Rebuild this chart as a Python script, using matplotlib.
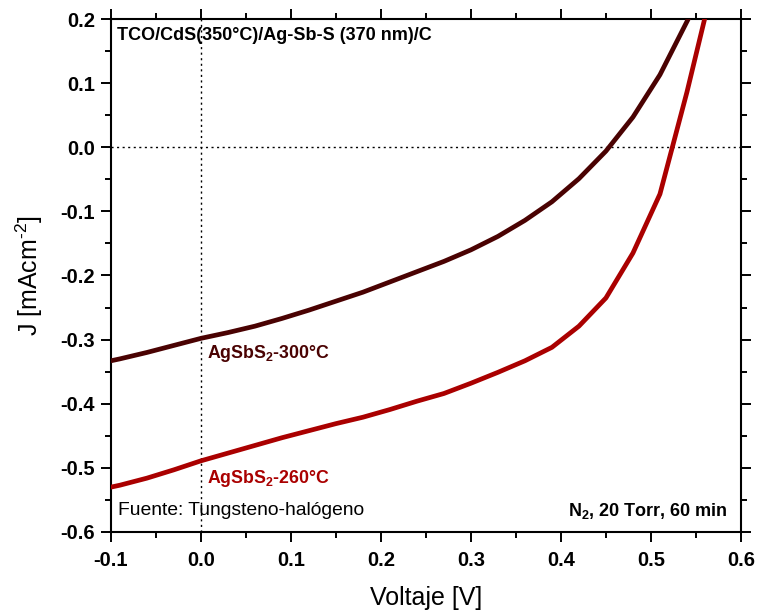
import numpy as np
import matplotlib
matplotlib.use("Agg")
import matplotlib.pyplot as plt
from matplotlib.ticker import MultipleLocator

plt.rcParams['font.family'] = ['Liberation Sans', 'DejaVu Sans']
plt.rcParams['mathtext.fontset'] = 'custom'
plt.rcParams['mathtext.rm'] = 'Liberation Sans'
plt.rcParams['mathtext.bf'] = 'Liberation Sans:bold'
plt.rcParams['mathtext.it'] = 'Liberation Sans:italic'

# curva AgSbS2-300°C
v_300 = [-0.10, -0.09, -0.06, -0.03, 0.00, 0.03, 0.06, 0.09, 0.12, 0.15, 0.18, 0.21, 0.24,
         0.27, 0.30, 0.33, 0.36, 0.39, 0.42, 0.45, 0.48, 0.51, 0.54, 0.57]
j_300 = [-0.333, -0.330, -0.320, -0.309, -0.298, -0.289, -0.279, -0.267, -0.254, -0.240,
         -0.226, -0.210, -0.194, -0.178, -0.160, -0.139, -0.114, -0.085, -0.049, -0.006,
         0.047, 0.113, 0.196, 0.280]

# curva AgSbS2-260°C
v_260 = [-0.10, -0.09, -0.06, -0.03, 0.00, 0.03, 0.06, 0.09, 0.12, 0.15, 0.18, 0.21, 0.24,
         0.27, 0.30, 0.33, 0.36, 0.39, 0.42, 0.45, 0.48, 0.51, 0.54, 0.57]
j_260 = [-0.530, -0.527, -0.516, -0.503, -0.489, -0.477, -0.465, -0.453, -0.442, -0.431,
         -0.421, -0.409, -0.396, -0.384, -0.368, -0.351, -0.333, -0.312, -0.279, -0.235,
         -0.165, -0.073, 0.086, 0.260]

xticks = [-0.1, 0.0, 0.1, 0.2, 0.3, 0.4, 0.5, 0.6]
xlabels = ['-0.1', '0.0', '0.1', '0.2', '0.3', '0.4', '0.5', '0.6']
yticks = [-0.6, -0.5, -0.4, -0.3, -0.2, -0.1, 0.0, 0.1, 0.2]
ylabels = ['-0.6', '-0.5', '-0.4', '-0.3', '-0.2', '-0.1', '0.0', '0.1', '0.2']

fig = plt.figure(figsize=(7.59, 6.11), dpi=100)
ax = fig.add_axes([0.1462, 0.1293, 0.830, 0.8396])

ax.axvline(0, color='black', ls=(0, (1.5, 2.5)), lw=1.0, zorder=1)
ax.axhline(0, color='black', ls=(0, (1.5, 2.5)), lw=1.0, zorder=1)

ax.plot(v_300, j_300, color='#4a0202', lw=3.4, zorder=3)
ax.plot(v_260, j_260, color='#aa0000', lw=3.4, zorder=3)

ax.set_xlim(-0.1, 0.6)
ax.set_ylim(-0.6, 0.2)
ax.set_xticks(xticks)
ax.set_xticklabels(xlabels)
ax.set_yticks(yticks)
ax.set_yticklabels(ylabels)
ax.xaxis.set_minor_locator(MultipleLocator(0.05))
ax.yaxis.set_minor_locator(MultipleLocator(0.05))

ax.tick_params(which='both', direction='out', top=True, right=True, width=1.4)
ax.tick_params(which='major', length=7.5, labelsize=14.5)
ax.tick_params(which='minor', length=4)
ax.tick_params(axis='x', which='major', pad=6)
ax.tick_params(axis='y', which='major', pad=4)
for lab in ax.get_xticklabels() + ax.get_yticklabels():
    lab.set_fontweight('bold')
for sp in ax.spines.values():
    sp.set_linewidth(1.5)

ax.set_xlabel('Voltaje [V]', fontsize=18, labelpad=12)
ax.set_ylabel(r'J [mAcm$^{\text{-2}}$]', fontsize=18, labelpad=11)

ax.text(0.0095, 0.985, 'TCO/CdS(350°C)/Ag-Sb-S (370 nm)/C', transform=ax.transAxes,
        fontsize=13, fontweight='bold', va='top', ha='left')
ax.text(0.0065, -0.322, r'AgSbS$_\mathbf{2}$-300°C', color='#4a0202',
        fontsize=12.8, fontweight='bold', va='center', ha='left')
ax.text(0.0065, -0.516, r'AgSbS$_\mathbf{2}$-260°C', color='#aa0000',
        fontsize=12.8, fontweight='bold', va='center', ha='left')
ax.text(0.011, 0.041, 'Fuente: Tungsteno-halógeno', transform=ax.transAxes,
        fontsize=13.9, va='center', ha='left')
ax.text(0.979, 0.041, r'N$_\mathbf{2}$, 20 Torr, 60 min', transform=ax.transAxes,
        fontsize=13, fontweight='bold', va='center', ha='right')

fig.savefig('out.png', dpi=100)
